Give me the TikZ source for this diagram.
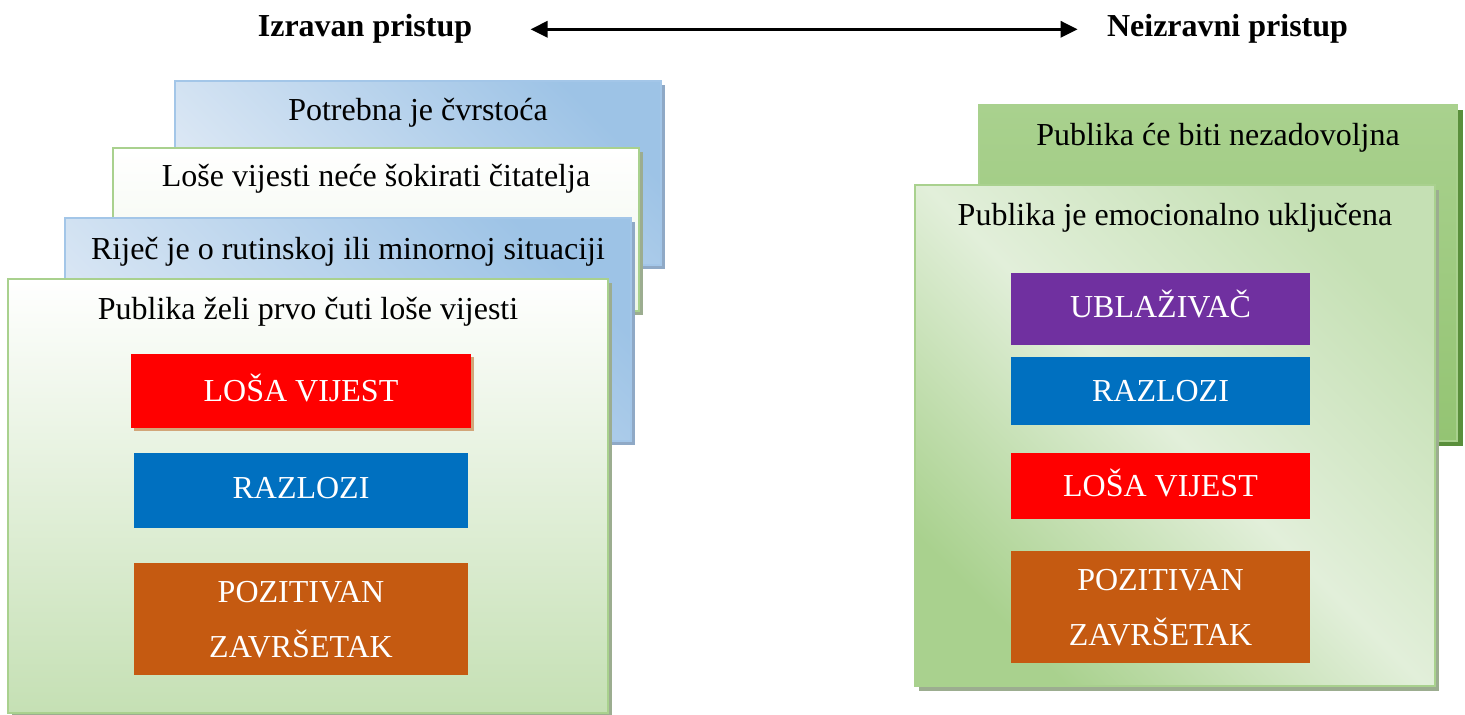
\documentclass[tikz,border=0pt]{standalone}
\usepackage{fontspec}
\setmainfont{Liberation Serif}
\usetikzlibrary{positioning,shadows,arrows.meta}

\definecolor{plavasv}{HTML}{DEE9F5}
\definecolor{plavatam}{HTML}{9DC3E6}
\definecolor{plavarub}{HTML}{A3C6E8}
\definecolor{sjenaplava}{HTML}{8FA9C6}
\definecolor{zelenarub}{HTML}{A9D18E}
\definecolor{zelenasv}{HTML}{E2EFDA}
\definecolor{zelenasr}{HTML}{C5E0B4}
\definecolor{zelenatam}{HTML}{A9D18E}
\definecolor{zelenaE}{HTML}{94C473}
\definecolor{sjenazelena}{HTML}{9CAD90}
\definecolor{sjenatamna}{HTML}{5A8F3C}
\definecolor{crvena}{HTML}{FF0000}
\definecolor{plavablok}{HTML}{0070C0}
\definecolor{narancasta}{HTML}{C55A11}
\definecolor{ljubicasta}{HTML}{7030A0}

\pgfdeclarehorizontalshading{plavakosa}{100bp}{color(0bp)=(plavasv); color(25bp)=(plavasv); color(75bp)=(plavatam); color(100bp)=(plavatam)}
\pgfdeclarehorizontalshading{zelenakosa}{100bp}{color(0bp)=(zelenatam); color(25bp)=(zelenatam); color(50bp)=(zelenasv); color(75bp)=(zelenasr); color(100bp)=(zelenasr)}

\tikzset{
  ploca/.style={rectangle, line width=1pt, inner sep=0pt},
  plava/.style={ploca, draw=plavarub, shade, shading=plavakosa, shading angle=45,
    drop shadow={shadow xshift=2pt, shadow yshift=-2pt, fill=sjenaplava, opacity=1}},
  bijela/.style={ploca, draw=zelenarub, top color=white, bottom color=#1,
    drop shadow={shadow xshift=2pt, shadow yshift=-2pt, fill=sjenazelena, opacity=1}},
  tamnozelena/.style={ploca, draw=zelenarub, top color=zelenatam, bottom color=zelenaE,
    drop shadow={shadow xshift=3pt, shadow yshift=-2.5pt, fill=sjenatamna, opacity=1}},
  svijetlozelena/.style={ploca, draw=zelenarub, shade, shading=zelenakosa, shading angle=45,
    drop shadow={shadow xshift=2pt, shadow yshift=-2.5pt, fill=sjenazelena, opacity=1}},
  natpis/.style={anchor=base, inner sep=0pt, font=\fontsize{16}{19}\selectfont},
  naslov/.style={natpis, font=\fontsize{16}{19}\selectfont\bfseries},
  blok/.style={rectangle, inner sep=0pt, fill=#1, text=white, align=center,
    font=\fontsize{16}{27.5}\selectfont, text height=10.6pt, text depth=0pt},
  blokdva/.style={blok=#1, text height=38.1pt, text depth=0pt},
  strelica/.style={line width=1.6pt, {Triangle[length=8.5pt,width=8pt]}-{Triangle[length=8.5pt,width=8pt]}}
}

\begin{document}
\begin{tikzpicture}[x=0.5pt,y=-0.5pt]
  \useasboundingbox (0,0) rectangle (1465,715);

  \node[naslov] (iz) at (365,37) {Izravan pristup};
  \node[naslov] (neiz) at (1227.5,37) {Neizravni pristup};
  \coordinate[right=29pt of iz.east] (s1);
  \coordinate[left=14.5pt of neiz.west] (s2);
  \draw[strelica] (s1) -- (s2);

  \node[plava, minimum width=243pt, minimum height=92pt] (a) at (418,173) {};
  \node[natpis] (a1) at ([yshift=-20.5pt]a.north) {Potrebna je čvrstoća};
  \node[bijela=zelenasv!60, minimum width=263pt, minimum height=81.5pt] (b) at (376,229.5) {};
  \node[natpis] (b1) at ([yshift=-20pt]b.north) {Loše vijesti neće šokirati čitatelja};
  \node[plava, minimum width=283pt, minimum height=111.5pt] (c) at (348,329.5) {};
  \node[natpis] (c1) at ([yshift=-21.5pt]c.north) {Riječ je o rutinskoj ili minornoj situaciji};
  \node[bijela=zelenasr, minimum width=300pt, minimum height=217pt] (d) at (308,496) {};
  \node[natpis] (d1) at ([yshift=-21pt]d.north) {Publika želi prvo čuti loše vijesti};

  \node[blok=crvena, minimum width=170pt, minimum height=37pt,
    drop shadow={shadow xshift=1.5pt, shadow yshift=-1.5pt, fill=brown!70, opacity=1}] (l1) at (301,391) {LOŠA VIJEST};
  \node[blok=plavablok, minimum width=167pt, minimum height=37.5pt, text depth=3pt] (l2) at (301,490.5) {RAZLOZI};
  \node[blokdva=narancasta, minimum width=167pt, minimum height=56pt] (l3) at (301,619) {POZITIVAN\\ZAVRŠETAK};

  \node[tamnozelena, minimum width=239pt, minimum height=168pt] (e) at (1218,273) {};
  \node[natpis] (e1) at ([yshift=-21pt]e.north) {Publika će biti nezadovoljna};
  \node[svijetlozelena, minimum width=260pt, minimum height=250.5pt] (f) at (1175,435.5) {};
  \node[natpis] (f1) at ([yshift=-21pt]f.north) {Publika je emocionalno uključena};

  \node[blok=ljubicasta, minimum width=149.5pt, minimum height=36pt, text depth=2.5pt] (r1) at (1160.5,309) {UBLAŽIVAČ};
  \node[blok=plavablok, minimum width=149.5pt, minimum height=34pt] (r2) at (1160.5,391) {RAZLOZI};
  \node[blok=crvena, minimum width=149.5pt, minimum height=33pt] (r3) at (1160.5,486) {LOŠA VIJEST};
  \node[blokdva=narancasta, minimum width=149.5pt, minimum height=56pt] (r4) at (1160.5,607) {POZITIVAN\\ZAVRŠETAK};
\end{tikzpicture}
\end{document}
